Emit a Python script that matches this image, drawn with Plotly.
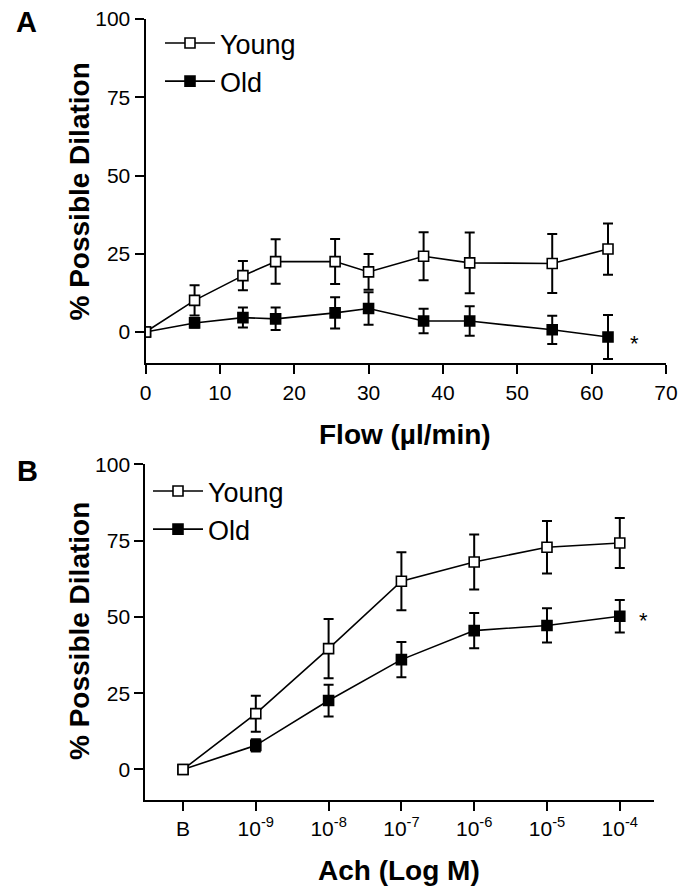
import plotly.graph_objects as go

# ---- Panel A data ----
flow_x = [0, 6.6, 13.1, 17.5, 25.5, 30.0, 37.4, 43.6, 54.7, 62.2]
young_a = [0, 10.1, 18.0, 22.5, 22.5, 19.2, 24.2, 22.1, 21.9, 26.5]
young_a_err = [0, 4.8, 4.7, 7.1, 7.2, 5.7, 7.7, 9.7, 9.4, 8.2]
old_a = [0, 2.9, 4.6, 4.2, 6.1, 7.5, 3.5, 3.5, 0.7, -1.6]
old_a_err = [0, 1.5, 3.2, 3.6, 5.0, 5.2, 3.9, 4.7, 4.5, 7.0]

# ---- Panel B data ----
ach_pos = [0, 1, 2, 3, 4, 5, 6]
ach_labels = ["B", "10<sup>-9</sup>", "10<sup>-8</sup>", "10<sup>-7</sup>",
              "10<sup>-6</sup>", "10<sup>-5</sup>", "10<sup>-4</sup>"]
young_b = [0, 18.3, 39.6, 61.7, 68.0, 72.8, 74.2]
young_b_err = [0, 5.9, 9.7, 9.5, 9.0, 8.6, 8.2]
old_b = [0, 7.9, 22.6, 36.0, 45.5, 47.2, 50.2]
old_b_err = [0, 2.0, 5.2, 5.8, 5.8, 5.6, 5.3]

y_ticks = [0, 25, 50, 75, 100]

W, H = 683, 888
FONT = "Liberation Sans, Arial, sans-serif"


def px_x(p):
    return p / W


def px_y(p):
    return 1 - p / H


fig = go.Figure()

err_style = dict(type="data", thickness=2, width=5, color="black")
line_style = dict(color="black", width=1.6)


def add_series(x, y, err, name, filled, xa, ya, legend):
    fig.add_trace(go.Scatter(
        x=x, y=y, mode="lines+markers", name=name,
        xaxis=xa, yaxis=ya, legend=legend,
        line=line_style,
        marker=dict(symbol="square", size=10,
                    color="black" if filled else "white",
                    line=dict(color="black", width=1.6)),
        error_y=dict(array=err, **err_style),
        legendrank=2 if filled else 1,
    ))


add_series(flow_x, old_a, old_a_err, "Old", True, "x", "y", "legend")
add_series(flow_x, young_a, young_a_err, "Young", False, "x", "y", "legend")
add_series(ach_pos, old_b, old_b_err, "Old", True, "x2", "y2", "legend2")
add_series(ach_pos, young_b, young_b_err, "Young", False, "x2", "y2", "legend2")

axis_common = dict(
    showline=True, linecolor="black", linewidth=2,
    ticks="outside", ticklen=9, tickwidth=2, tickcolor="black",
    showgrid=False, zeroline=False, automargin=False,
    tickfont=dict(family=FONT, size=21, color="black"),
)

legend_common = dict(xanchor="left", yanchor="top",
                     bgcolor="rgba(0,0,0,0)", borderwidth=0,
                     itemwidth=50,
                     font=dict(family=FONT, size=27, color="black"),
                     tracegroupgap=0)

fig.update_layout(
    template="none",
    width=W, height=H, autosize=False,
    margin=dict(l=0, r=0, t=0, b=0, pad=0, autoexpand=False),
    paper_bgcolor="white", plot_bgcolor="white",
    font=dict(family=FONT, color="black"),
    xaxis=dict(domain=[px_x(145.5), px_x(666)], range=[0, 70],
               tickvals=[0, 10, 20, 30, 40, 50, 60, 70],
               anchor="y", **axis_common),
    yaxis=dict(domain=[px_y(363.3), px_y(19)], range=[-10, 100],
               tickvals=y_ticks, anchor="x", **axis_common),
    xaxis2=dict(domain=[px_x(145.3), px_x(654)], range=[-0.518, 6.47],
                tickvals=ach_pos, ticktext=ach_labels,
                anchor="y2", **axis_common),
    yaxis2=dict(domain=[px_y(800), px_y(464.3)], range=[-10, 100],
                tickvals=y_ticks, anchor="x2", **axis_common),
    legend=dict(x=px_x(160), y=px_y(19), **legend_common),
    legend2=dict(x=px_x(148), y=px_y(467), **legend_common),
)

title_font = dict(family=FONT, size=28, color="black")
ann = [
    # panel letters
    dict(text="<b>A</b>", x=px_x(26.5), y=px_y(22.5), xref="paper", yref="paper",
         showarrow=False, font=dict(family=FONT, size=29, color="black"),
         xanchor="center", yanchor="middle"),
    dict(text="<b>B</b>", x=px_x(27), y=px_y(471), xref="paper", yref="paper",
         showarrow=False, font=dict(family=FONT, size=29, color="black"),
         xanchor="center", yanchor="middle"),
    # axis titles
    dict(text="<b>% Possible Dilation</b>", x=px_x(79), y=px_y(191.5),
         xref="paper", yref="paper", textangle=-90, showarrow=False,
         font=title_font, xanchor="center", yanchor="middle"),
    dict(text="<b>% Possible Dilation</b>", x=px_x(79), y=px_y(631),
         xref="paper", yref="paper", textangle=-90, showarrow=False,
         font=title_font, xanchor="center", yanchor="middle"),
    dict(text="<b>Flow (µl/min)</b>", x=px_x(405), y=px_y(434),
         xref="paper", yref="paper", showarrow=False,
         font=title_font, xanchor="center", yanchor="middle"),
    dict(text="<b>Ach (Log M)</b>", x=px_x(399), y=px_y(870),
         xref="paper", yref="paper", showarrow=False,
         font=title_font, xanchor="center", yanchor="middle"),
    # significance marks
    dict(text="*", x=65.7, y=-2.65, xref="x", yref="y", showarrow=False,
         font=dict(family=FONT, size=22, color="black"),
         xanchor="center", yanchor="middle", yshift=-3),
    dict(text="*", x=6.32, y=49.8, xref="x2", yref="y2", showarrow=False,
         font=dict(family=FONT, size=22, color="black"),
         xanchor="center", yanchor="middle", yshift=-3),
]
fig.update_layout(annotations=ann)

fig.write_html("out.html",
               config={"displayModeBar": False},
               post_script="document.body.style.margin='0';"
                           "document.body.style.overflow='hidden';")
